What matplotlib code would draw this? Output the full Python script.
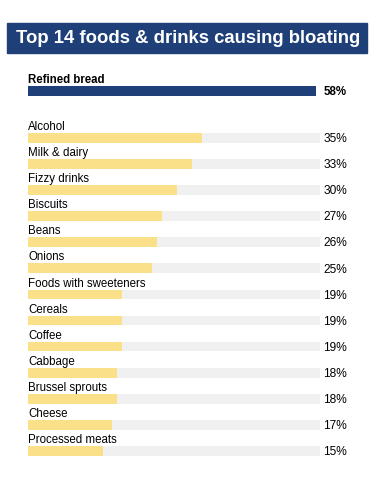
import matplotlib
matplotlib.use("Agg")
import matplotlib.pyplot as plt
from matplotlib.patches import Rectangle

plt.rcParams['font.family'] = ['Liberation Sans', 'DejaVu Sans']

title = "Top 14 foods & drinks causing bloating"
categories = ["Refined bread", "Alcohol", "Milk & dairy", "Fizzy drinks", "Biscuits",
              "Beans", "Onions", "Foods with sweeteners", "Cereals", "Coffee",
              "Cabbage", "Brussel sprouts", "Cheese", "Processed meats"]
values = [58, 35, 33, 30, 27, 26, 25, 19, 19, 19, 18, 18, 17, 15]
value_labels = [f"{v}%" for v in values]

BLUE = "#1e3f78"
YELLOW = "#fbe08a"
TRACK = "#f0f0f0"

W, H = 375, 480
fig = plt.figure(figsize=(W / 100, H / 100), dpi=100)

# title box
fig.patches.append(Rectangle((7 / W, 1 - 53 / H), 360 / W, 30 / H,
                             transform=fig.transFigure, color=BLUE, zorder=0))
fig.text(188 / W, 1 - 38.5 / H, title, color="white", fontsize=13.35,
         fontweight="bold", ha="center", va="center")

# axes: 1 % = 4.97 px, 1 row = 26.1 px
px_per_pct = 4.97
px_per_row = 26.1
ax_left, ax_right = 28, 28 + 64 * px_per_pct
ax_top, ax_bot = 60, 472
ax = fig.add_axes([ax_left / W, 1 - ax_bot / H, (ax_right - ax_left) / W, (ax_bot - ax_top) / H])
ax.set_xlim(0, 64)
y0 = 90.8
ax.set_ylim((ax_bot - y0) / px_per_row, -(y0 - ax_top) / px_per_row)
ax.axis("off")

ypos = [0.0] + [1.8 + i for i in range(len(categories) - 1)]
bar_h = 0.37
track_max = 58.8
fs = 8.3

for i, (cat, v, lab, y) in enumerate(zip(categories, values, value_labels, ypos)):
    if i == 0:
        ax.barh(y, v, height=bar_h, left=0, color=BLUE)
        ax.text(0, y - 0.28, cat, fontsize=fs, fontweight="bold", ha="left", va="baseline", color="black")
        ax.text(track_max + 0.7, y + 0.03, lab, fontsize=fs, fontweight="bold", ha="left", va="center")
    else:
        ax.barh(y, track_max, height=bar_h, left=0, color=TRACK)
        ax.barh(y, v, height=bar_h, left=0, color=YELLOW)
        ax.text(0, y - 0.30, cat, fontsize=fs, ha="left", va="baseline", color="black")
        ax.text(track_max + 0.6, y + 0.05, lab, fontsize=fs + 0.3, ha="left", va="center")

fig.savefig("out.png", dpi=100)
